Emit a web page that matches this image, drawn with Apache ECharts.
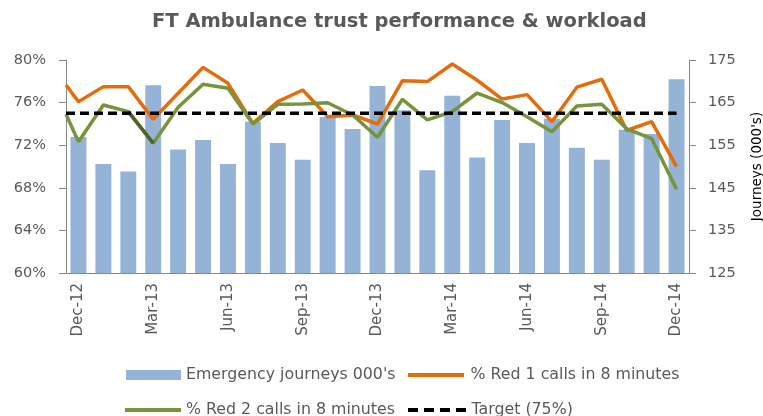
<!DOCTYPE html>
<html><head><meta charset="utf-8">
<script src="https://cdn.jsdelivr.net/npm/echarts@6/dist/echarts.min.js"></script>
<style>html,body{margin:0;padding:0;background:#fff}#c{width:763px;height:416px}</style>
</head><body><div id="c"></div>
<script>
const months = ['Dec-12','Jan-13','Feb-13','Mar-13','Apr-13','May-13','Jun-13','Jul-13','Aug-13','Sep-13','Oct-13','Nov-13','Dec-13','Jan-14','Feb-14','Mar-14','Apr-14','May-14','Jun-14','Jul-14','Aug-14','Sep-14','Oct-14','Nov-14','Dec-14'];
const journeys = [156.9,150.6,148.8,169.1,154.0,156.2,150.6,160.5,155.5,151.6,161.6,158.8,168.9,163.2,149.1,166.6,152.1,160.9,155.5,161.2,154.4,151.6,158.6,157.6,170.5];
const red1 = [76.09,77.5,77.5,74.43,76.87,79.31,77.81,74.05,76.09,77.18,74.68,74.84,73.99,78.06,77.97,79.62,78.1,76.33,76.75,74.21,77.45,78.19,73.38,74.21,69.98];
const red2 = [72.33,75.77,75.15,72.18,75.56,77.72,77.34,73.99,75.84,75.87,75.99,74.84,72.74,76.31,74.37,75.15,76.9,76.0,74.68,73.27,75.68,75.84,73.54,72.62,67.86];
// values where the lines enter at the left edge of the plot
const red1Lead = 77.65;
const red2Lead = 74.9;
const targetValue = 75;
const highlightRed2 = [2, 3]; // Feb-13 to Mar-13 segment drawn darker
const leftTicks = [60, 64, 68, 72, 76, 80];
const rightTicks = [125, 135, 145, 155, 165, 175];

const FONT = 'DejaVu Sans';
const GRAY = '#595959';
const xMin = -0.5, xMax = months.length - 0.5;
const withLead = (lead, arr) => [[xMin, lead]].concat(arr.map((v, i) => [i, v]));

const LINE_ICON = 'path://M0,0H56V4H0Z';
const DASH_ICON = 'path://M0,0h10v4h-10z M16,0h10v4h-10z M32,0h10v4h-10z M48,0h10v4h-10z';
const legText = {fontFamily:FONT, fontSize:15.8, color:GRAY};

const chart = echarts.init(document.getElementById('c'));
const lineBase = {type:'line', xAxisIndex:1, yAxisIndex:0, symbol:'none', clip:true, animation:false};
chart.setOption({
  animation:false,
  textStyle:{fontFamily:FONT},
  title:{text:'FT Ambulance trust performance & workload', left:147, top:7,
    textStyle:{fontFamily:FONT, fontSize:19.5, fontWeight:'bold', color:GRAY}},
  grid:{left:66, right:74, top:60, bottom:143, containLabel:false, outerBoundsMode:'none'},
  legend:[
    {data:[{name:'Emergency journeys 000\'s', icon:'rect'}], left:121, top:362, itemWidth:55, itemHeight:10, textStyle:legText, selectedMode:false},
    {data:[{name:'% Red 1 calls in 8 minutes', icon:LINE_ICON}], left:403, top:362, itemWidth:59, itemHeight:4, textStyle:legText, selectedMode:false},
    {data:[{name:'% Red 2 calls in 8 minutes', icon:LINE_ICON}], left:120, top:397, itemWidth:56, itemHeight:4, textStyle:legText, selectedMode:false},
    {data:[{name:'Target (75%)', icon:DASH_ICON}], left:403, top:397, itemWidth:59, itemHeight:4, textStyle:legText, selectedMode:false}
  ],
  xAxis:[
    {type:'category', data:months, boundaryGap:true,
      axisLine:{lineStyle:{color:'#868686', width:1}},
      axisTick:{interval:2, length:7, lineStyle:{color:'#868686'}},
      axisLabel:{interval:2, rotate:90, margin:10, color:GRAY, fontSize:15, fontFamily:FONT}},
    {type:'value', min:xMin, max:xMax, show:false}
  ],
  yAxis:[
    {type:'value', min:60, max:80, interval:4, position:'left',
      axisLine:{show:true, onZero:false, lineStyle:{color:'#868686'}},
      axisTick:{show:true, length:7, lineStyle:{color:'#868686'}},
      splitLine:{show:false},
      axisLabel:{formatter:'{value}%', margin:20, color:GRAY, fontSize:14.5, fontFamily:FONT}},
    {type:'value', min:125, max:175, position:'right',
      name:'Journeys (000\'s)', nameLocation:'middle', nameRotate:90, nameGap:61,
      nameTextStyle:{color:'#000', fontSize:13.5, fontFamily:FONT},
      axisLine:{show:true, onZero:false, lineStyle:{color:'#868686'}},
      axisTick:{show:true, length:7, customValues:rightTicks, lineStyle:{color:'#868686'}},
      splitLine:{show:false},
      axisLabel:{customValues:rightTicks, margin:19, color:GRAY, fontSize:14.5, fontFamily:FONT}}
  ],
  series:[
    {name:'Emergency journeys 000\'s', type:'bar', xAxisIndex:0, yAxisIndex:1, data:journeys,
      barCategoryGap:'36%', itemStyle:{color:'#95B3D7'}, animation:false},
    Object.assign({}, lineBase, {name:'% Red 1 calls in 8 minutes', data:withLead(red1Lead, red1),
      itemStyle:{color:'#E46C0A'}, lineStyle:{color:'#E46C0A', width:3.5}, z:3}),
    Object.assign({}, lineBase, {name:'% Red 2 calls in 8 minutes', data:withLead(red2Lead, red2),
      itemStyle:{color:'#77933C'}, lineStyle:{color:'#77933C', width:3.5}, z:4}),
    Object.assign({}, lineBase, {name:'red2-highlight', data:highlightRed2.map(i => [i, red2[i]]),
      itemStyle:{color:'#4F6228'}, lineStyle:{color:'#4F6228', width:3.5}, z:5}),
    Object.assign({}, lineBase, {name:'Target (75%)', data:[[xMin, targetValue]].concat(months.map((m, i) => [i, targetValue])),
      itemStyle:{color:'#000'}, lineStyle:{color:'#000', width:3.5, type:[9,5]}, z:6})
  ]
});
</script></body></html>
